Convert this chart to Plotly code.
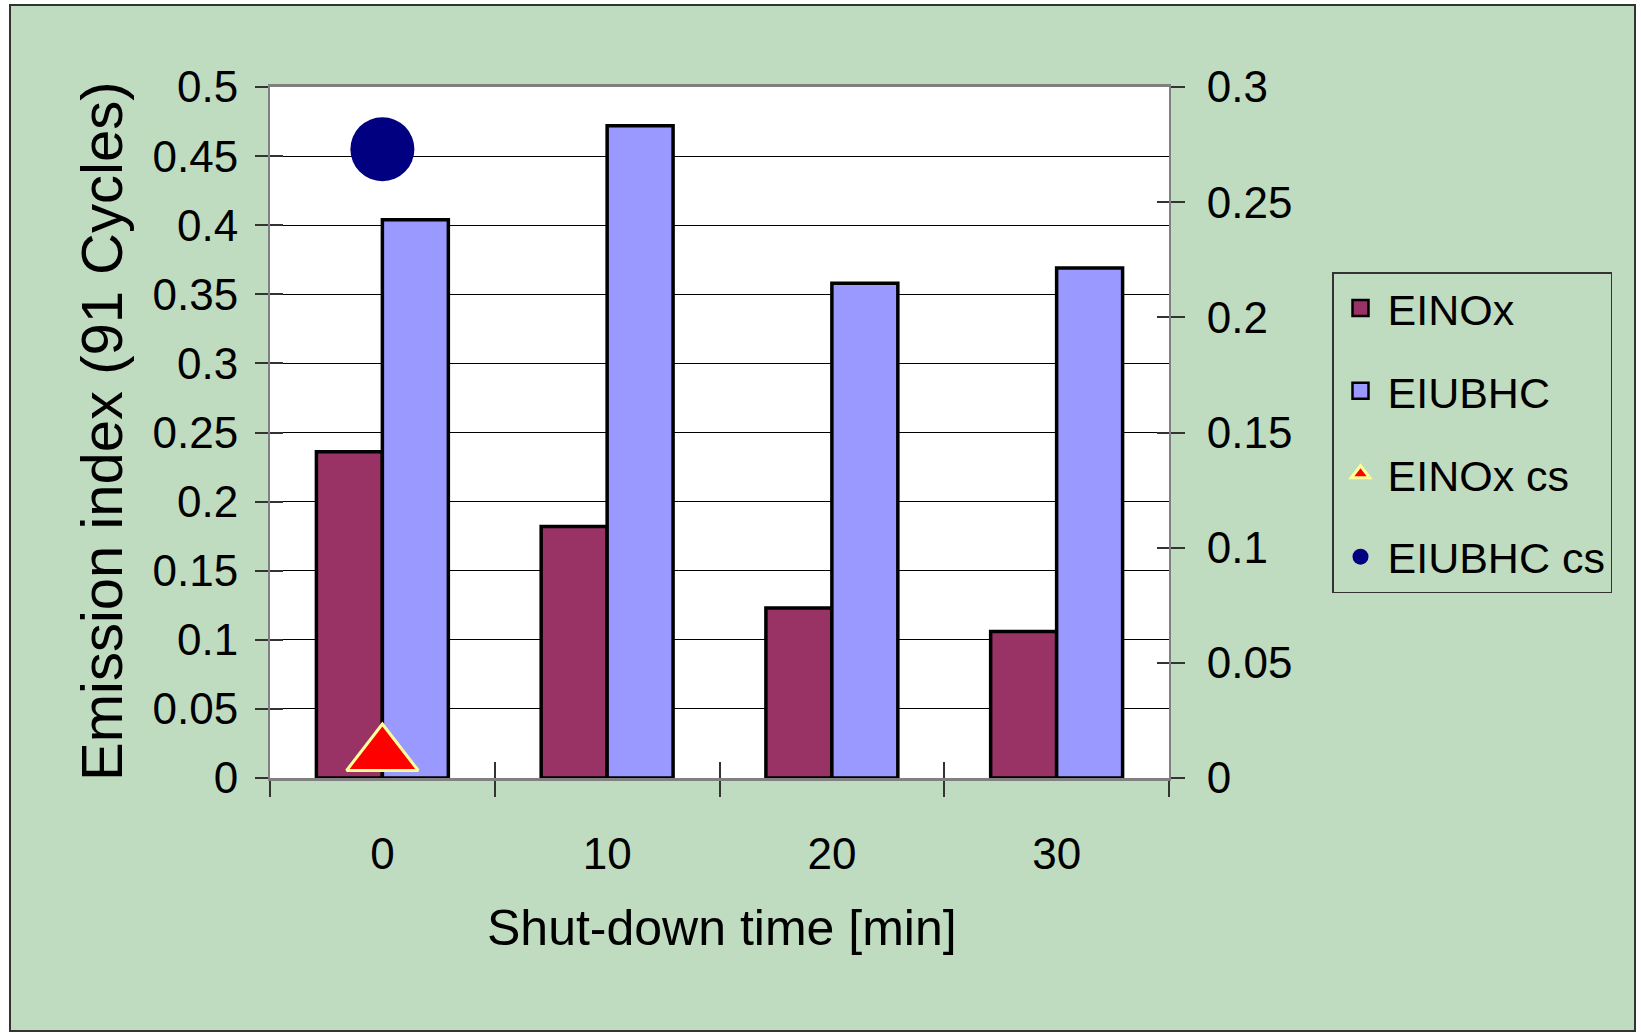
import plotly.graph_objects as go

categories = ["0", "10", "20", "30"]
einox = [0.236, 0.182, 0.123, 0.106]
eiubhc = [0.404, 0.472, 0.358, 0.369]
einox_cs = [0.010]
eiubhc_cs = [0.273]
cs_x = ["0"]

left_ticks = [0, 0.05, 0.1, 0.15, 0.2, 0.25, 0.3, 0.35, 0.4, 0.45, 0.5]
left_ticktext = ["0", "0.05", "0.1", "0.15", "0.2", "0.25", "0.3", "0.35", "0.4", "0.45", "0.5"]
right_ticks = [0, 0.05, 0.1, 0.15, 0.2, 0.25, 0.3]
right_ticktext = ["0", "0.05", "0.1", "0.15", "0.2", "0.25", "0.3"]

FONT = "Liberation Sans, Arial, sans-serif"
GREEN = "#C0DCC0"
C_NOX = "#993366"
C_HC = "#9999FF"

W, H = 1641, 1033
L, R, T, B = 270, 1169, 87, 778
pw, ph = R - L, B - T

def px(x):
    return (x - L) / pw

def py(y):
    return (B - y) / ph

fig = go.Figure()
fig.add_trace(go.Bar(x=categories, y=einox, name="EINOx", showlegend=False,
                     marker=dict(color=C_NOX, line=dict(color="black", width=3.5))))
fig.add_trace(go.Bar(x=categories, y=eiubhc, name="EIUBHC", showlegend=False,
                     marker=dict(color=C_HC, line=dict(color="black", width=3.5))))
# legend entries for the bars (larger square symbols than the bar legend glyph)
fig.add_trace(go.Scatter(x=[None], y=[None], name="EINOx", mode="markers", legendgroup="a", hoverinfo="skip",
                         marker=dict(symbol="square", size=16, color=C_NOX, line=dict(color="black", width=2.5))))
fig.add_trace(go.Scatter(x=[None], y=[None], name="EIUBHC", mode="markers", legendgroup="b", hoverinfo="skip",
                         marker=dict(symbol="square", size=16, color=C_HC, line=dict(color="black", width=2.5))))
fig.add_trace(go.Scatter(x=cs_x, y=einox_cs, name="EINOx cs", mode="markers", yaxis="y2", legendgroup="c",
                         marker=dict(symbol="triangle-up", size=62, color="#FF0000", line=dict(color="#FFFF99", width=3))))
fig.add_trace(go.Scatter(x=cs_x, y=eiubhc_cs, name="EIUBHC cs", mode="markers", yaxis="y2", legendgroup="d",
                         marker=dict(symbol="circle", size=64, color="#000080")))
# helper axes for the inner half of crossing tick marks
fig.add_trace(go.Scatter(x=[None], y=[None], xaxis="x2", yaxis="y3", showlegend=False, hoverinfo="skip"))
fig.add_trace(go.Scatter(x=[None], y=[None], xaxis="x2", yaxis="y4", showlegend=False, hoverinfo="skip"))

tickfont = dict(family=FONT, size=44, color="black")

fig.update_layout(
    width=W, height=H,
    margin=dict(l=L, r=W - R, t=T, b=H - B, autoexpand=False),
    paper_bgcolor="white",
    plot_bgcolor="white",
    barmode="group", bargap=0.413, bargroupgap=0,
    font=dict(family=FONT, color="black"),
    xaxis=dict(type="category", tickson="boundaries", ticks="outside", ticklen=16, tickwidth=1.5, tickcolor="#333",
               showline=True, linecolor="#808080", linewidth=2.5, mirror=True, showgrid=False,
               tickfont=tickfont, ticklabelstandoff=35, range=[-0.5, 3.5]),
    xaxis2=dict(overlaying="x", anchor="y", range=[-0.5, 3.5], tickvals=[-0.5, 0.5, 1.5, 2.5, 3.5],
                ticks="inside", ticklen=16, tickwidth=1.5, tickcolor="#333", showticklabels=False,
                showgrid=False, showline=False, zeroline=False),
    yaxis=dict(range=[0, 0.5], tickvals=left_ticks, ticktext=left_ticktext, ticks="outside", ticklen=13,
               tickwidth=1.5, tickcolor="#333", showline=True, linecolor="#808080", linewidth=2,
               showgrid=True, gridcolor="black", gridwidth=1, zeroline=False, tickfont=tickfont,
               ticklabelstandoff=8),
    yaxis2=dict(overlaying="y", side="right", anchor="x", range=[0, 0.3], tickvals=right_ticks, ticktext=right_ticktext,
                ticks="outside", ticklen=14, tickwidth=1.5, tickcolor="#333", showline=True, linecolor="#808080",
                linewidth=2, showgrid=False, zeroline=False, tickfont=tickfont, ticklabelstandoff=13),
    yaxis3=dict(overlaying="y", side="left", anchor="x", range=[0, 0.5], tickvals=left_ticks, ticks="inside",
                ticklen=13, tickwidth=1.5, tickcolor="#333", showticklabels=False, showgrid=False, showline=False,
                zeroline=False),
    yaxis4=dict(overlaying="y", side="right", anchor="x", range=[0, 0.3], tickvals=right_ticks, ticks="inside",
                ticklen=12, tickwidth=1.5, tickcolor="#333", showticklabels=False, showgrid=False, showline=False,
                zeroline=False),
    legend=dict(x=px(1332), y=py(272), xanchor="left", yanchor="top", bgcolor=GREEN, bordercolor="#333",
                borderwidth=1.5, font=dict(family=FONT, size=43, color="black"), traceorder="grouped",
                tracegroupgap=24, itemsizing="trace", itemwidth=44),
    showlegend=True,
    shapes=[
        dict(type="rect", xref="paper", yref="paper", x0=px(10), x1=px(1635), y0=py(1031), y1=py(5),
             fillcolor=GREEN, line=dict(color="#333", width=2), layer="below"),
        dict(type="rect", xref="paper", yref="paper", x0=0, x1=1, y0=0, y1=1,
             fillcolor="white", line=dict(width=0), layer="below"),
    ],
    annotations=[
        dict(text="Emission index (91 Cycles)", xref="paper", yref="paper", x=px(101), y=py(432),
             textangle=-90, showarrow=False, font=dict(family=FONT, size=58, color="black"),
             xanchor="center", yanchor="middle"),
        dict(text="Shut-down time [min]", xref="paper", yref="paper", x=px(722), y=py(928),
             showarrow=False, font=dict(family=FONT, size=50, color="black"),
             xanchor="center", yanchor="middle"),
    ],
)

fig.write_html("out.html")
